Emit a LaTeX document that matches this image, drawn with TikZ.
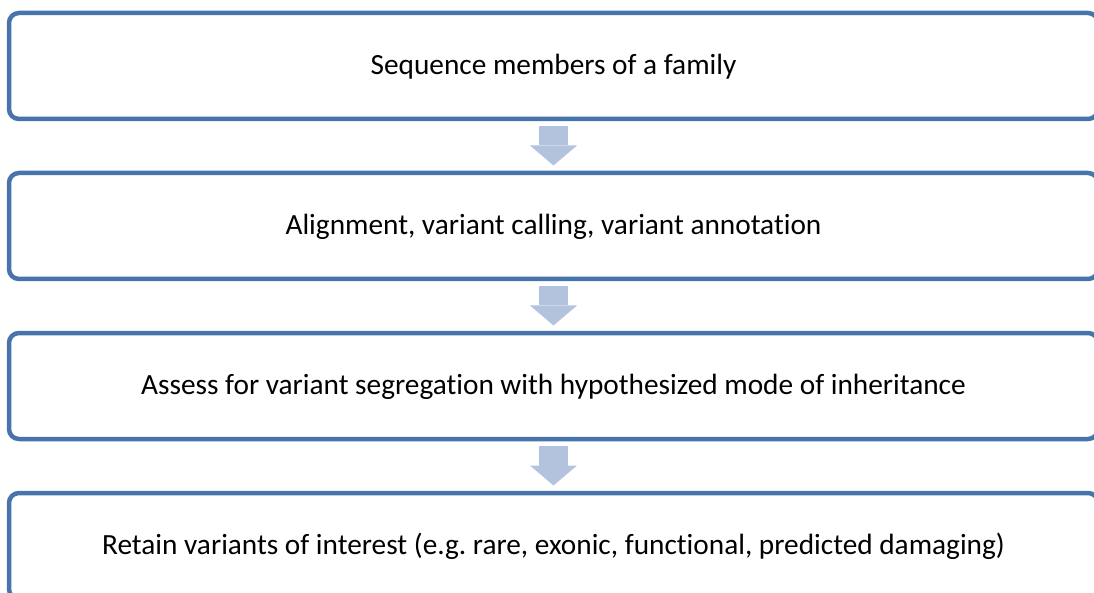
\documentclass[tikz,border=0pt]{standalone}
\usepackage{fontspec}
\setmainfont{Carlito}[Ligatures={NoCommon,NoRequired,NoContextual}]
\usetikzlibrary{arrows.meta}
\definecolor{boxblue}{RGB}{72,116,172}
\definecolor{flowblue}{RGB}{179,195,222}
\tikzstyle{stepbox} = [rectangle, rounded corners=10pt,
minimum width=1089pt,
minimum height=106pt,
text height=21pt,
text depth=4pt,
outer sep=0pt,
text centered,
draw=boxblue, line width=4.5pt]
\tikzstyle{flow} = [draw=flowblue, line width=29pt,
shorten <=7pt, shorten >=7.5pt,
-{Triangle[width=47pt, length=20pt, line width=0pt 0 0]}]

\begin{document}
\begin{tikzpicture}[x=1pt, y=-1pt, node distance=160pt, font=\fontsize{29.3}{35}\selectfont]
        \path[use as bounding box, clip] (0,0) rectangle (1094,593);
        \node (sequence) [stepbox] at (553.5,66) {Sequence members of a family};
        \node (alignment) [stepbox, below of=sequence] {Alignment, variant calling, variant annotation};
        \node (assess) [stepbox, below of=alignment] {Assess for variant segregation with hypothesized mode of inheritance};
        \node (retain) [stepbox, below of=assess] {Retain variants of interest (e.g.\ rare, exonic, functional, predicted damaging)};

        \draw [flow] (sequence) -- (alignment);
        \draw [flow] (alignment) -- (assess);
        \draw [flow] (assess) -- (retain);
    \end{tikzpicture}
\end{document}
